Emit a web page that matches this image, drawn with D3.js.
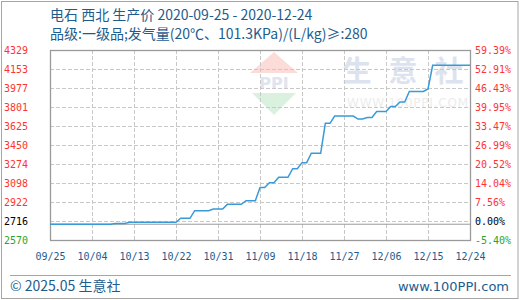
<!DOCTYPE html>
<html>
<head>
<meta charset="utf-8">
<script src="https://cdn.jsdelivr.net/npm/d3@7"></script>
<style>
  body { margin: 0; background: #fff; }
  svg { display: block; }
</style>
</head>
<body>
<div id="chart"></div>
<script>
// daily price, 2020-09-25 .. 2020-12-24
const startDate = "2020-09-25";
const prices = [
  2716, 2716, 2716, 2716, 2716, 2716, 2716, 2716, 2716, 2716, 2716, 2716, 2716, 2716,
  2723, 2723, 2723,
  2734, 2734, 2734, 2734, 2734, 2734, 2734, 2734, 2734, 2734, 2734,
  2771, 2771, 2771,
  2841, 2841, 2841, 2841,
  2857, 2857, 2857,
  2900, 2900, 2900, 2900,
  2934, 2934, 2934,
  3056, 3056,
  3100, 3100,
  3150, 3150, 3150,
  3230, 3230,
  3286, 3286,
  3373, 3373, 3373,
  3650, 3650,
  3718, 3718, 3718, 3718, 3718,
  3690, 3690,
  3704, 3704,
  3760, 3760, 3760,
  3806, 3806,
  3848, 3848,
  3945, 3945, 3945, 3945,
  3968,
  4187, 4187, 4187, 4187, 4187, 4187, 4187, 4187, 4187
];
const basePrice = 2716;
const yMin = 2570, yMax = 4329;

const xTickLabels = ["09/25", "10/04", "10/13", "10/22", "10/31", "11/09", "11/18", "11/27", "12/06", "12/15", "12/24"];
const leftLabels = ["2570", "2716", "2922", "3098", "3274", "3450", "3625", "3801", "3977", "4153", "4329"];
const rightLabels = ["-5.40%", "0.00%", "7.56%", "14.04%", "20.52%", "26.99%", "33.47%", "39.95%", "46.43%", "52.91%", "59.39%"];

const titleLine1 = "电石 西北 生产价 2020-09-25 - 2020-12-24";
const titleLine2 = "品级:一级品;发气量(20℃、101.3KPa)/(L/kg)≥:280";

const W = 520, H = 300;
const margin = {top: 50, right: 50, bottom: 60, left: 50};
const width = W - margin.left - margin.right;   // 420
const height = H - margin.top - margin.bottom;  // 190

const parseDay = d3.timeParse("%Y-%m-%d");
const start = parseDay(startDate);
const data = prices.map((p, i) => ({date: d3.timeDay.offset(start, i), price: p}));
const xTicks = xTickLabels.map(s => parseDay("2020-" + s.replace("/", "-")));

const svg = d3.select("#chart").append("svg")
  .attr("width", W).attr("height", H);

// outer frame
svg.append("rect")
  .attr("x", 1.5).attr("y", 1.5)
  .attr("width", W - 3.5).attr("height", H - 3)
  .attr("fill", "none").attr("stroke", "#a6a6a6");

// titles
const titleColor = "#1d5d8e";
svg.append("text").attr("x", 50).attr("y", 20)
  .attr("fill", titleColor)
  .style("font", "14px 'Noto Sans CJK SC', sans-serif")
  .text(titleLine1);
svg.append("text").attr("x", 50).attr("y", 38.5)
  .attr("fill", titleColor)
  .style("font", "14px 'Noto Sans CJK SC', sans-serif")
  .text(titleLine2);

const g = svg.append("g").attr("transform", `translate(${margin.left},${margin.top})`);

// watermark
const wm = g.append("g").attr("class", "watermark");
wm.append("path").attr("d", "M224,2 L248,23 L200,23 Z").attr("fill", "#fbdcd8");
wm.append("text").attr("x", 224).attr("y", 39).attr("text-anchor", "middle")
  .attr("fill", "#dfe4ee").style("font", "bold 16px 'DejaVu Sans', sans-serif").text("PPI");
wm.append("path").attr("d", "M202,43 L246,43 L224,65 Z").attr("fill", "#dbf1df");
["生", "意", "社"].forEach((c, i) => {
  wm.append("text").attr("x", 307 + i * 46).attr("y", 32).attr("text-anchor", "middle")
    .attr("fill", "#dde3ee").style("font", "bold 29px 'Noto Sans CJK SC', sans-serif").text(c);
});
wm.append("text").attr("x", 297).attr("y", 57)
  .attr("fill", "#ececec").attr("textLength", 121)
  .style("font", "12px 'DejaVu Sans', sans-serif").text("WWW.100PPI.COM");

const x = d3.scaleTime().domain([start, d3.timeDay.offset(start, prices.length - 1)]).range([0, width]);
const y = d3.scaleLinear().domain([yMin, yMax]).range([height, 0]);
const yTick = d3.scalePoint().domain(d3.range(leftLabels.length)).range([height, 0]);

// grid
g.append("g").selectAll("line.hgrid")
  .data(d3.range(1, leftLabels.length - 1))
  .join("line")
  .attr("x1", 0).attr("x2", width)
  .attr("y1", d => Math.round(yTick(d)) + 0.5).attr("y2", d => Math.round(yTick(d)) + 0.5)
  .attr("stroke", "#c8c8c8").attr("stroke-dasharray", "4,2");
g.append("g").selectAll("line.vgrid")
  .data(xTicks.slice(1, -1))
  .join("line")
  .attr("x1", d => Math.round(x(d)) + 0.5).attr("x2", d => Math.round(x(d)) + 0.5)
  .attr("y1", 0).attr("y2", height)
  .attr("stroke", "#c8c8c8").attr("stroke-dasharray", "4,2");

// base price line
g.append("line")
  .attr("x1", 0).attr("x2", width)
  .attr("y1", y(basePrice)).attr("y2", y(basePrice))
  .attr("stroke", "#9a9a9a");

// plot frame
g.append("rect").attr("x", 0.5).attr("y", 0.5)
  .attr("width", width).attr("height", height)
  .attr("fill", "none").attr("stroke", "#9a9a9a").attr("stroke-width", 1.3);

// price line
const line = d3.line().x(d => x(d.date)).y(d => y(d.price));
g.append("path").datum(data)
  .attr("d", line)
  .attr("fill", "none")
  .attr("stroke", "#3a9ad8")
  .attr("stroke-width", 1.5);

// axes
const axisFont = "10px 'DejaVu Sans Mono', monospace";
const tickColor = i => i === 0 ? "#2aa52a" : (i === 1 ? "#000" : "#ff3333");

const yLeft = g.append("g")
  .call(d3.axisLeft(yTick).tickSize(0).tickPadding(22).tickFormat(i => leftLabels[i]));
yLeft.select(".domain").remove();
yLeft.selectAll("text").style("font", axisFont).attr("fill", (d) => tickColor(d));

const yRight = g.append("g").attr("transform", `translate(${width},0)`)
  .call(d3.axisRight(yTick).tickSize(0).tickPadding(5).tickFormat(i => rightLabels[i]));
yRight.select(".domain").remove();
yRight.selectAll("text").style("font", axisFont).attr("fill", (d) => tickColor(d));

const xAxis = g.append("g").attr("transform", `translate(0,${height})`)
  .call(d3.axisBottom(x).tickValues(xTicks).tickSize(0).tickPadding(13).tickFormat(d3.timeFormat("%m/%d")));
xAxis.select(".domain").remove();
xAxis.selectAll("text").style("font", axisFont).attr("fill", titleColor);

// footer
svg.append("line").attr("x1", 10).attr("x2", 511).attr("y1", 275.5).attr("y2", 275.5)
  .attr("stroke", "#a6a6a6");
svg.append("text").attr("x", 10).attr("y", 291)
  .attr("fill", titleColor)
  .style("font", "14px 'Noto Sans CJK SC', sans-serif")
  .text("© 2025.05 生意社");
svg.append("text").attr("x", 509).attr("y", 291).attr("text-anchor", "end")
  .attr("fill", titleColor)
  .style("font", "13px 'DejaVu Sans', sans-serif")
  .text("www.100PPI.com");
</script>
</body>
</html>
